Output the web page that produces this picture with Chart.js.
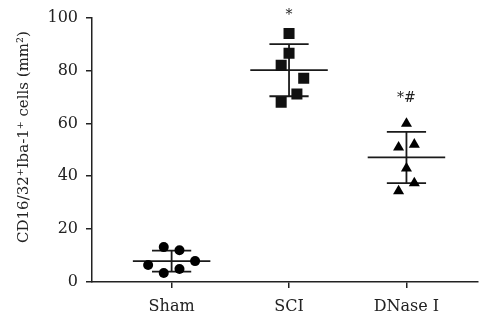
<!DOCTYPE html>
<html>
<head>
<meta charset="utf-8">
<script src="https://cdn.jsdelivr.net/npm/chart.js@4/dist/chart.umd.min.js"></script>
<style>
  html, body { margin: 0; padding: 0; background: #fff; }
  #wrap { width: 486px; height: 326px; }
</style>
</head>
<body>
<div id="wrap"><canvas id="c"></canvas></div>
<script>
// groups and their values
const categories = ['Sham', 'SCI', 'DNase I'];
const shamValues  = [13.2, 12.0, 6.4, 7.9, 3.4, 4.9];
const sciValues   = [94.0, 86.5, 82.0, 77.1, 71.1, 68.0];
const dnaseValues = [59.9, 52.0, 50.9, 43.0, 37.4, 34.4];
// horizontal scatter of the dots around each group centre (in category units)
const shamJitter  = [-0.067, 0.067, -0.2, 0.2, -0.067, 0.067];
const sciJitter   = [0, 0, -0.067, 0.125, 0.067, -0.067];
const dnaseJitter = [0, 0.067, -0.067, 0, 0.067, -0.067];
// mean and SD per group
const means = [7.9, 80.1, 47.1];
const sds   = [3.95, 9.85, 9.7];
// significance marks
const sigMarks = ['', '*', '*#'];
const sigY     = [null, 101, 69.5];
const yTicks = [0, 20, 40, 60, 80, 100];
const yTitle = 'CD16/32⁺Iba-1⁺ cells (mm²)';

const toPoints = (vals, jit, pos) => vals.map((v, i) => ({ x: pos + jit[i], y: v }));

const lineDs = (pts, w) => ({
    type: 'scatter', data: pts, showLine: true, pointRadius: 0,
    borderColor: '#1a1a1a', borderWidth: w, order: 2
});

const datasets = [];
means.forEach((m, i) => {
    const x = i + 1, s = sds[i];
    datasets.push(lineDs([{ x: x - 0.33, y: m }, { x: x + 0.33, y: m }], 1.8));
    datasets.push(lineDs([{ x: x - 0.167, y: m + s }, { x: x + 0.167, y: m + s }], 1.8));
    datasets.push(lineDs([{ x: x - 0.167, y: m - s }, { x: x + 0.167, y: m - s }], 1.8));
    datasets.push(lineDs([{ x: x, y: m - s }, { x: x, y: m + s }], 1.8));
});
datasets.push({ data: toPoints(shamValues, shamJitter, 1), pointStyle: 'circle', pointRadius: 5, backgroundColor: '#000', borderColor: '#000', borderWidth: 0, order: 1 });
datasets.push({ data: toPoints(sciValues, sciJitter, 2), pointStyle: 'rect', pointRadius: 7.8, backgroundColor: '#111', borderColor: '#111', borderWidth: 0, order: 1 });
datasets.push({ data: toPoints(dnaseValues, dnaseJitter, 3), pointStyle: 'triangle', pointRadius: 6.4, backgroundColor: '#000', borderColor: '#000', borderWidth: 0, order: 1 });

const serifFamily = '"DejaVu Serif", "Liberation Serif", serif';

// asterisks above the groups + the rotated y title
const sigPlugin = {
    id: 'sig',
    afterDatasetsDraw(chart) {
        const { ctx, scales } = chart;
        ctx.save();
        ctx.fillStyle = '#222';
        ctx.font = '14px ' + serifFamily;
        ctx.textAlign = 'center';
        ctx.textBaseline = 'middle';
        sigMarks.forEach((t, i) => {
            if (!t) return;
            ctx.fillText(t, scales.x.getPixelForValue(i + 1), scales.y.getPixelForValue(sigY[i]));
        });
        ctx.translate(24, 137);
        ctx.rotate(-Math.PI / 2);
        ctx.font = '15px ' + serifFamily;
        ctx.fillText(yTitle, 0, 0);
        ctx.restore();
    }
};

const serif = { family: serifFamily, size: 16 };

new Chart(document.getElementById('c'), {
    type: 'scatter',
    data: { datasets },
    options: {
        responsive: true,
        maintainAspectRatio: false,
        animation: false,
        layout: { padding: { top: 16, right: 1, left: 0, bottom: 0 } },
        plugins: { legend: { display: false }, tooltip: { enabled: false } },
        scales: {
            x: {
                type: 'linear', min: 0.322, max: 3.611,
                afterBuildTicks: s => { s.ticks = categories.map((c, i) => ({ value: i + 1 })); },
                afterFit: s => { s.height = 44; },
                ticks: { color: '#222', font: serif, padding: 9, callback: v => categories[v - 1] },
                grid: { drawOnChartArea: false, drawTicks: true, tickLength: 6, color: '#222', lineWidth: 1.5 },
                border: { display: true, color: '#222', width: 1.5 }
            },
            y: {
                min: 0, max: 100,
                afterBuildTicks: s => { s.ticks = yTicks.map(v => ({ value: v })); },
                afterFit: s => { s.width = 92; },
                ticks: { color: '#222', font: serif, padding: 8 },
                grid: { drawOnChartArea: false, drawTicks: true, tickLength: 6, color: '#222', lineWidth: 1.5 },
                border: { display: true, color: '#222', width: 1.5 }
            }
        }
    },
    plugins: [sigPlugin]
});
</script>
</body>
</html>
